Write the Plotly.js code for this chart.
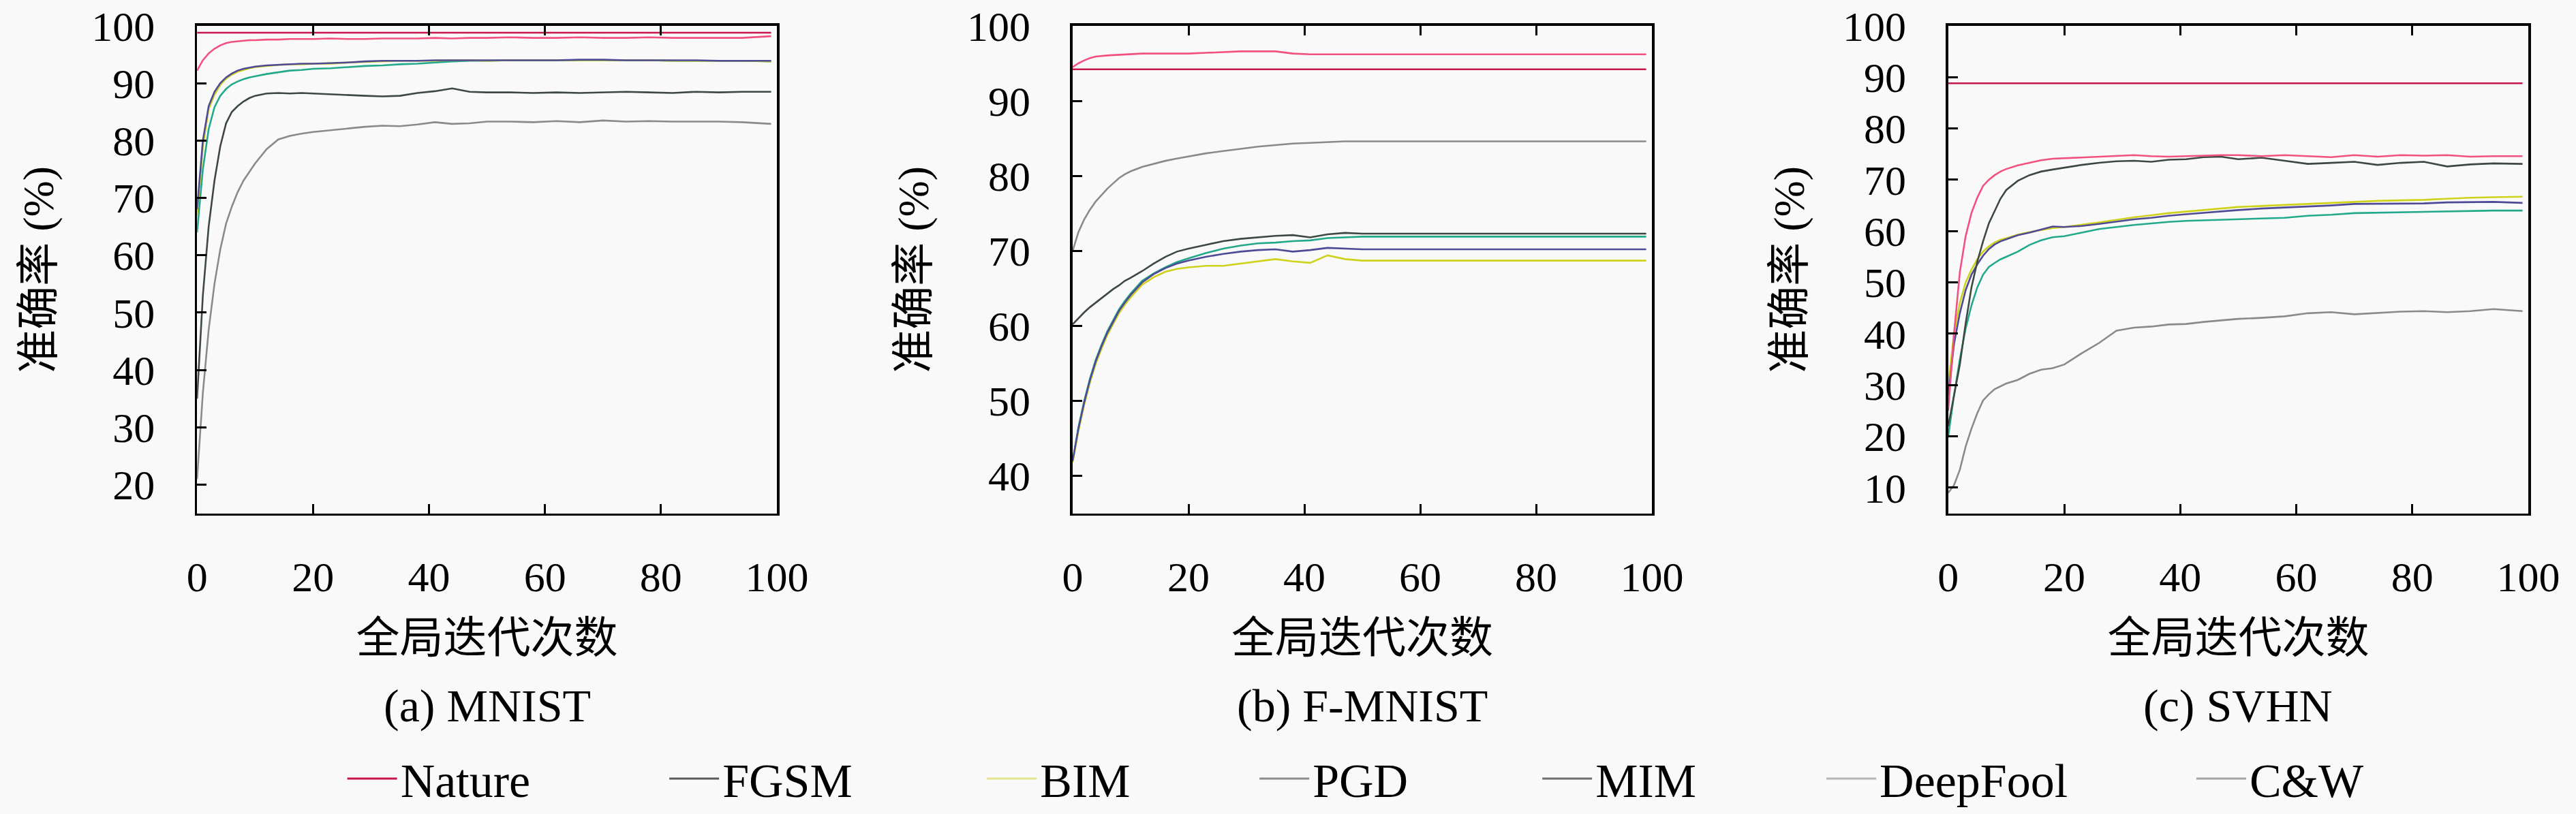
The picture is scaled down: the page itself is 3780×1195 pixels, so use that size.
<!DOCTYPE html>
<html>
<head>
<meta charset="utf-8">
<script src="https://cdn.plot.ly/plotly-3.0.1.min.js"></script>
<style>
  html, body { margin: 0; padding: 0; background: #f9f9f9; }
</style>
</head>
<body>
<div id="chart" style="width:3780px;height:1195px;"></div>
<script>
// global iterations sampled along the x axis
var epochs = [0, 1, 2, 3, 4, 5, 6, 7, 8, 9, 10, 12, 14, 16, 18, 20, 23, 26, 29, 32, 35, 38, 41, 44, 47, 50, 54, 58, 62, 66, 70, 74, 78, 82, 86, 90, 94, 99];

var methods = ["Nature", "FGSM", "BIM", "PGD", "MIM", "DeepFool", "C&W"];
var panelCaptions = ["(a) MNIST", "(b) F-MNIST", "(c) SVHN"];

// (a) MNIST
var natureA = [98.8, 98.8, 98.8, 98.8, 98.8, 98.8, 98.8, 98.8, 98.8, 98.8, 98.8, 98.8, 98.8, 98.8, 98.8, 98.8, 98.8, 98.8, 98.8, 98.8, 98.8, 98.8, 98.8, 98.8, 98.8, 98.8, 98.8, 98.8, 98.8, 98.8, 98.8, 98.8, 98.8, 98.8, 98.8, 98.8, 98.8, 98.8];
var fgsmA = [35, 53, 65, 73, 79, 83, 85, 86, 86.8, 87.4, 87.8, 88.2, 88.3, 88.2, 88.3, 88.2, 88.1, 87.9, 87.8, 87.7, 87.8, 88.3, 88.6, 89.1, 88.5, 88.4, 88.4, 88.3, 88.4, 88.3, 88.4, 88.5, 88.4, 88.3, 88.5, 88.4, 88.5, 88.5];
var bimA = [67, 79, 85.5, 88, 89.7, 90.8, 91.5, 92.0, 92.3, 92.6, 92.8, 93.0, 93.2, 93.3, 93.3, 93.4, 93.4, 93.6, 93.7, 93.8, 93.9, 93.9, 93.9, 94.0, 94.0, 93.9, 94.0, 94.0, 94.0, 94.0, 94.0, 94.0, 94.0, 93.9, 93.9, 93.9, 93.9, 93.8];
var pgdA = [68, 80, 86, 88.5, 90, 91, 91.7, 92.2, 92.5, 92.7, 92.9, 93.1, 93.2, 93.3, 93.4, 93.4, 93.5, 93.6, 93.8, 93.9, 93.9, 93.9, 94.0, 94.0, 94.0, 94.0, 94.0, 94.0, 94.0, 94.1, 94.1, 94.0, 94.0, 94.0, 94.0, 93.9, 93.9, 93.9];
var mimA = [64, 75, 82, 85.8, 87.8, 89, 89.8, 90.3, 90.7, 91.0, 91.2, 91.6, 91.9, 92.2, 92.3, 92.5, 92.6, 92.8, 93.0, 93.1, 93.3, 93.4, 93.6, 93.8, 93.9, 93.9, 94.0, 94.0, 94.0, 94.0, 94.0, 94.0, 94.0, 93.9, 93.9, 93.9, 93.9, 93.8];
var deepfoolA = [92.2, 94.0, 95.2, 96.0, 96.6, 97.0, 97.2, 97.3, 97.4, 97.5, 97.5, 97.6, 97.6, 97.7, 97.7, 97.7, 97.8, 97.7, 97.7, 97.8, 97.8, 97.8, 97.9, 97.8, 97.9, 97.9, 98.0, 97.9, 97.9, 98.0, 97.9, 97.9, 98.0, 97.9, 97.9, 97.9, 97.9, 98.2];
var cwA = [21, 36, 47, 55, 61, 65.5, 68.5, 71, 73, 74.5, 76, 78.5, 80.2, 80.8, 81.2, 81.5, 81.8, 82.1, 82.4, 82.6, 82.5, 82.8, 83.2, 82.9, 83.0, 83.3, 83.3, 83.2, 83.4, 83.2, 83.5, 83.3, 83.4, 83.3, 83.3, 83.3, 83.2, 82.9];

// (b) F-MNIST
var natureB = [94.2, 94.2, 94.2, 94.2, 94.2, 94.2, 94.2, 94.2, 94.2, 94.2, 94.2, 94.2, 94.2, 94.2, 94.2, 94.2, 94.2, 94.2, 94.2, 94.2, 94.2, 94.2, 94.2, 94.2, 94.2, 94.2, 94.2, 94.2, 94.2, 94.2, 94.2, 94.2, 94.2, 94.2, 94.2, 94.2, 94.2, 94.2];
var fgsmB = [60.2, 61.0, 61.8, 62.5, 63.1, 63.7, 64.3, 64.9, 65.4, 66.0, 66.4, 67.3, 68.3, 69.2, 69.9, 70.3, 70.8, 71.3, 71.6, 71.8, 72.0, 72.1, 71.8, 72.2, 72.4, 72.3, 72.3, 72.3, 72.3, 72.3, 72.3, 72.3, 72.3, 72.3, 72.3, 72.3, 72.3, 72.3];
var bimB = [41.8, 46, 49.5, 52.5, 55, 57, 58.8, 60.3, 61.7, 62.8, 63.8, 65.5, 66.5, 67.2, 67.6, 67.8, 68.0, 68.0, 68.3, 68.6, 68.9, 68.6, 68.4, 69.4, 68.9, 68.7, 68.7, 68.7, 68.7, 68.7, 68.7, 68.7, 68.7, 68.7, 68.7, 68.7, 68.7, 68.7];
var pgdB = [42, 46.3, 49.8, 52.8, 55.3, 57.3, 59.1, 60.6, 62.0, 63.1, 64.1, 65.8, 66.9, 67.7, 68.3, 68.7, 69.2, 69.6, 69.9, 70.1, 70.2, 69.9, 70.1, 70.4, 70.3, 70.2, 70.2, 70.2, 70.2, 70.2, 70.2, 70.2, 70.2, 70.2, 70.2, 70.2, 70.2, 70.2];
var mimB = [42, 46.5, 50, 53, 55.5, 57.5, 59.3, 60.8, 62.2, 63.3, 64.3, 66.0, 67.0, 67.8, 68.5, 69.0, 69.7, 70.3, 70.7, 71.0, 71.1, 71.3, 71.4, 71.7, 71.8, 71.9, 71.9, 71.9, 71.9, 71.9, 71.9, 71.9, 71.9, 71.9, 71.9, 71.9, 71.9, 71.9];
var deepfoolB = [94.5, 95.0, 95.4, 95.7, 95.9, 96.0, 96.05, 96.1, 96.15, 96.2, 96.25, 96.3, 96.3, 96.3, 96.3, 96.3, 96.4, 96.5, 96.6, 96.6, 96.6, 96.3, 96.2, 96.2, 96.2, 96.2, 96.2, 96.2, 96.2, 96.2, 96.2, 96.2, 96.2, 96.2, 96.2, 96.2, 96.2, 96.2];
var cwB = [70, 72.5, 74.2, 75.5, 76.6, 77.5, 78.3, 79.0, 79.7, 80.2, 80.6, 81.2, 81.6, 82.0, 82.3, 82.6, 83.0, 83.3, 83.6, 83.9, 84.1, 84.3, 84.4, 84.5, 84.6, 84.6, 84.6, 84.6, 84.6, 84.6, 84.6, 84.6, 84.6, 84.6, 84.6, 84.6, 84.6, 84.6];

// (c) SVHN
var natureC = [88.8, 88.8, 88.8, 88.8, 88.8, 88.8, 88.8, 88.8, 88.8, 88.8, 88.8, 88.8, 88.8, 88.8, 88.8, 88.8, 88.8, 88.8, 88.8, 88.8, 88.8, 88.8, 88.8, 88.8, 88.8, 88.8, 88.8, 88.8, 88.8, 88.8, 88.8, 88.8, 88.8, 88.8, 88.8, 88.8, 88.8, 88.8];
var fgsmC = [22, 28, 34, 42, 49, 54, 58, 61.5, 64, 66.3, 68, 69.8, 70.9, 71.6, 72.0, 72.4, 72.9, 73.3, 73.6, 73.7, 73.5, 73.9, 74.0, 74.4, 74.5, 74.0, 74.3, 73.7, 73.1, 73.3, 73.5, 72.9, 73.3, 73.5, 72.6, 73.0, 73.2, 73.1];
var bimC = [30, 40, 46, 50, 52.5, 54.5, 56, 57, 57.8, 58.3, 58.6, 59.3, 59.8, 60.2, 60.6, 60.8, 61.2, 61.7, 62.2, 62.7, 63.1, 63.5, 63.8, 64.1, 64.4, 64.7, 64.9, 65.1, 65.3, 65.5, 65.8, 65.9, 66.0, 66.1, 66.3, 66.5, 66.6, 66.7];
var pgdC = [28, 38, 44, 48.5, 51.5, 53.5, 55.2, 56.5, 57.4, 58, 58.4, 59.2, 59.7, 60.3, 60.9, 60.8, 61.0, 61.4, 61.8, 62.3, 62.6, 63.0, 63.3, 63.6, 63.9, 64.1, 64.4, 64.6, 64.8, 65.0, 65.3, 65.3, 65.3, 65.4, 65.6, 65.7, 65.7, 65.5];
var mimC = [20, 28, 35, 41, 45.5, 49, 51.5, 53, 53.8, 54.5, 55, 56, 57.3, 58.2, 58.8, 59, 59.7, 60.4, 60.8, 61.2, 61.5, 61.8, 62.0, 62.1, 62.3, 62.4, 62.5, 62.6, 63.0, 63.2, 63.5, 63.6, 63.7, 63.8, 63.9, 63.9, 64.0, 64.0];
var deepfoolC = [25, 40, 52, 59, 63.5, 66.5, 68.8, 70, 70.9, 71.6, 72.1, 72.8, 73.3, 73.8, 74.1, 74.2, 74.4, 74.5, 74.6, 74.8, 74.6, 74.5, 74.6, 74.7, 74.8, 74.8, 74.6, 74.8, 74.6, 74.4, 74.8, 74.5, 74.8, 74.7, 74.8, 74.5, 74.6, 74.6];
var cwC = [9, 10.5, 13.5, 18, 21.5, 24.5, 27, 28.2, 29.2, 29.8, 30.3, 31, 32.2, 33, 33.3, 34, 36.2, 38.2, 40.6, 41.2, 41.4, 41.8, 41.9, 42.3, 42.6, 42.9, 43.1, 43.4, 44, 44.2, 43.8, 44, 44.3, 44.4, 44.2, 44.4, 44.8, 44.4];

// y ranges and y ticks for each panel
var yRanges = [[15, 100], [35, 100], [5, 100]];
var yTickStart = [20, 40, 10];

var lineColors = {
  "Nature": "#c8154b", "FGSM": "#3d4843", "BIM": "#cfd21a", "PGD": "#4e4a96",
  "MIM": "#22a88a", "DeepFool": "#f2507f", "C&W": "#8a8a8a"
};
// the legend swatches in the figure are greyed out except Nature and BIM
var legendColors = {
  "Nature": "#c8154b", "FGSM": "#5a5a5a", "BIM": "#e4e48c", "PGD": "#8c8c8c",
  "MIM": "#707070", "DeepFool": "#b4b4b4", "C&W": "#a4a4a4"
};

var panelData = [
  {"Nature": natureA, "FGSM": fgsmA, "BIM": bimA, "PGD": pgdA, "MIM": mimA, "DeepFool": deepfoolA, "C&W": cwA},
  {"Nature": natureB, "FGSM": fgsmB, "BIM": bimB, "PGD": pgdB, "MIM": mimB, "DeepFool": deepfoolB, "C&W": cwB},
  {"Nature": natureC, "FGSM": fgsmC, "BIM": bimC, "PGD": pgdC, "MIM": mimC, "DeepFool": deepfoolC, "C&W": cwC}
];
var drawOrder = ["C&W", "MIM", "BIM", "PGD", "FGSM", "DeepFool", "Nature"];

var xDomains = [[0.0765, 0.3016], [0.4164, 0.6413], [0.7563, 0.9815]];
var yDomain = [0.364, 0.968];

var serif = "'Liberation Serif', 'DejaVu Serif', serif";
var cjk = "'Liberation Serif', 'Noto Sans CJK SC', serif";

var data = [];
panelData.forEach(function (pd, p) {
  var sfx = p === 0 ? "" : String(p + 1);
  drawOrder.forEach(function (m) {
    data.push({
      x: epochs, y: pd[m], type: "scatter", mode: "lines", name: m,
      line: {color: lineColors[m], width: 2.6},
      xaxis: "x" + sfx, yaxis: "y" + sfx, showlegend: false, hoverinfo: "skip"
    });
  });
});

// legend-only traces, one small legend per entry so they spread along the bottom
var legendStarts = [0.1335, 0.2585, 0.3818, 0.4876, 0.5974, 0.7077, 0.8513];
methods.forEach(function (m, i) {
  data.push({
    x: [null], y: [null], type: "scatter", mode: "lines", name: m,
    line: {color: legendColors[m], width: 3},
    legend: i === 0 ? "legend" : "legend" + (i + 1), showlegend: true
  });
});

var layout = {
  width: 3780, height: 1195,
  margin: {l: 0, r: 0, t: 0, b: 0},
  paper_bgcolor: "#f9f9f9", plot_bgcolor: "#f9f9f9",
  font: {family: serif, size: 62, color: "#000"},
  annotations: []
};

xDomains.forEach(function (dom, p) {
  var sfx = p === 0 ? "" : String(p + 1);
  layout["xaxis" + sfx] = {
    domain: dom, range: [0, 100], anchor: "y" + sfx,
    tickmode: "array", tickvals: [0, 20, 40, 60, 80, 100],
    ticks: "inside", ticklen: 14, tickwidth: 3, tickcolor: "#000",
    showline: true, linecolor: "#000", linewidth: 3.5, mirror: "ticks",
    showgrid: false, zeroline: false, ticklabelstandoff: 36,
    tickfont: {family: serif, size: 62},
    title: {text: "全局迭代次数", font: {family: cjk, size: 64}, standoff: 34}
  };
  layout["yaxis" + sfx] = {
    domain: yDomain, range: yRanges[p], anchor: "x" + sfx,
    tick0: yTickStart[p], dtick: 10,
    ticks: "inside", ticklen: 14, tickwidth: 3, tickcolor: "#000",
    showline: true, linecolor: "#000", linewidth: 3.5, mirror: true,
    showgrid: false, zeroline: false, ticklabelstandoff: 46,
    tickfont: {family: serif, size: 62},
    title: {text: "准确率 (%)", font: {family: cjk, size: 64}, standoff: 36}
  };
  layout.annotations.push({
    text: panelCaptions[p], xref: "paper", yref: "paper",
    x: (dom[0] + dom[1]) / 2, y: 1 - 1045 / 1195,
    xanchor: "center", yanchor: "middle", showarrow: false,
    font: {family: serif, size: 68}
  });
});

legendStarts.forEach(function (lx, i) {
  var key = i === 0 ? "legend" : "legend" + (i + 1);
  layout[key] = {
    x: lx, y: 1 - 1153 / 1195, xanchor: "left", yanchor: "middle",
    orientation: "h", bgcolor: "rgba(0,0,0,0)", borderwidth: 0,
    font: {family: serif, size: 70}, itemwidth: 73
  };
});

Plotly.newPlot("chart", data, layout, {staticPlot: true});
</script>
</body>
</html>
